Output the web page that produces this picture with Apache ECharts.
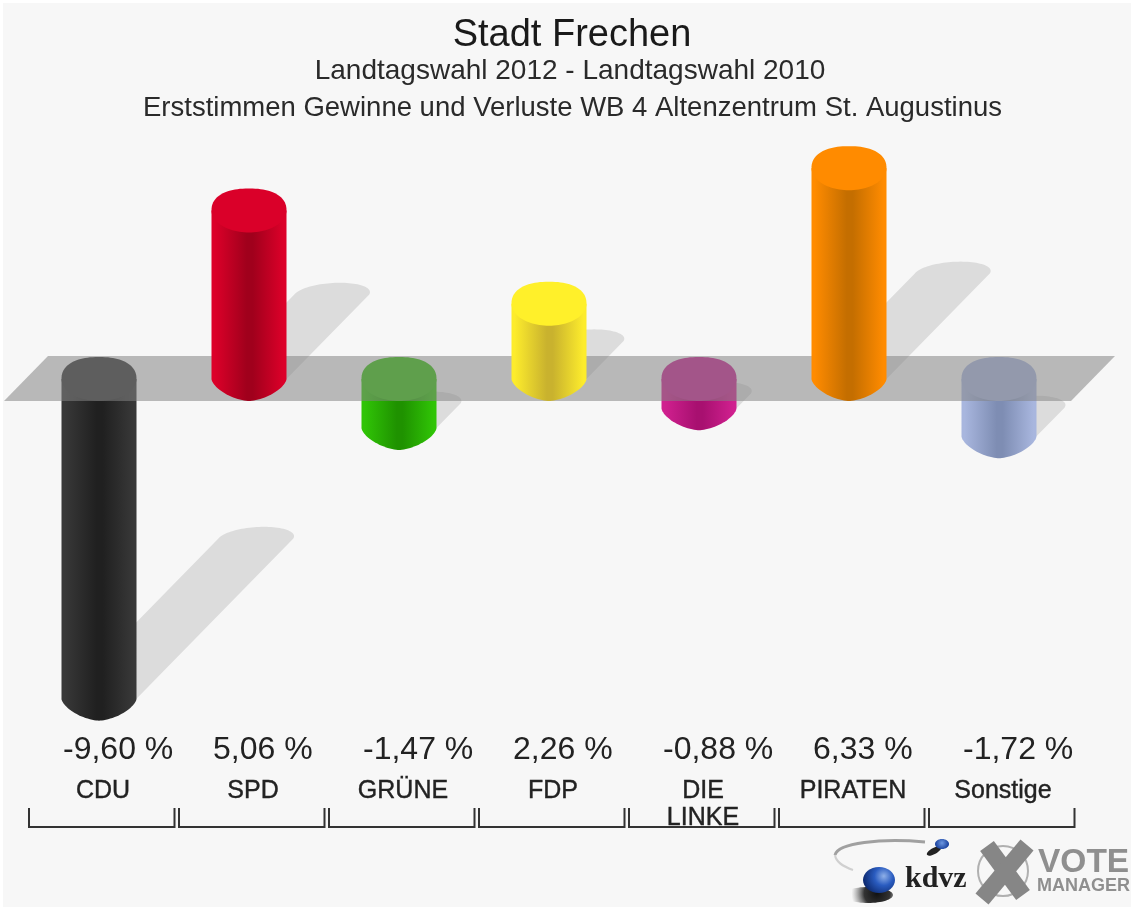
<!DOCTYPE html>
<html><head><meta charset="utf-8">
<style>html,body{margin:0;padding:0;background:#fff;overflow:hidden}#c{width:1131px;height:910px;filter:blur(0.55px)}</style>
<script src="https://cdn.jsdelivr.net/npm/echarts@6/dist/echarts.min.js"></script>
</head><body><div id="c"></div>
<script>
var titles = ['Stadt Frechen','Landtagswahl 2012 - Landtagswahl 2010','Erststimmen Gewinne und Verluste WB 4 Altenzentrum St. Augustinus'];
var categories = ['CDU','SPD','GRÜNE','FDP','DIE\nLINKE','PIRATEN','Sonstige'];
var values = [-9.60,5.06,-1.47,2.26,-0.88,6.33,-1.72];
var capColors = ['#343434','#da0029','#35c00c','#fff02a','#c92090','#ff8b00','#a6b4dc'];
var edgeColors = ['#383838','#dc0029','#30c406','#fdec2c','#d0208f','#ff8b00','#a8b6de'];
var coreColors = ['#202020','#a0001c','#1f9200','#c9b22e','#a81070','#c46e00','#7e8db3'];

var FONT = '"Liberation Sans", Arial, sans-serif';
var HW = 37.5, HH = 22;
function arc(cx, cy, rx, ry, from, to, n) {
  var pts = [], steps = 48, e = 2 / (n || 2);
  for (var k = 0; k <= steps; k++) {
    var a = (from + (to - from) * k / steps) * Math.PI / 180;
    var c = Math.cos(a), s = Math.sin(a);
    pts.push([cx + rx * (c<0?-1:1) * Math.pow(Math.abs(c), e), cy + ry * (s<0?-1:1) * Math.pow(Math.abs(s), e)]);
  }
  return pts;
}
function poly(points, fill, extra) {
  return Object.assign({type:'polygon', shape:{points:points}, style:{fill:fill}, silent:true}, extra||{});
}
function bodyFill(i) {
  return new echarts.graphic.LinearGradient(0,0,1,0,[
    {offset:0.04,color:edgeColors[i]},
    {offset:0.47,color:coreColors[i]},{offset:0.55,color:coreColors[i]},
    {offset:0.96,color:edgeColors[i]}]);
}
function cylinder(api, i) {
  var v = api.value(1);
  var base = api.coord([i,0]), tip = api.coord([i,v]);
  var cx = base[0];
  var topY = Math.min(base[1], tip[1]), botY = Math.max(base[1], tip[1]);
  var pts = [[cx-HW,topY],[cx+HW,topY]].concat(arc(cx,botY,HW,HH,0,180,1.6));
  return {type:'group',children:[
    poly(pts, bodyFill(i)),
    poly(arc(cx,topY,HW,HH,180,360,2.3).concat(arc(cx,topY,HW,HH,0,180,2)), capColors[i])
  ]};
}
var shadowItem = function(params, api) {
  var i = params.dataIndex, v = api.value(1);
  var base = api.coord([i,0]), tip = api.coord([i,v]);
  var cx = base[0], h = Math.abs(base[1]-tip[1]);
  var y0 = Math.max(base[1], tip[1]);
  var dx = h*0.49, dy = h*0.5, endY = y0-dy;
  var top = arc(cx+dx,endY,HW,12,180,360,2).map(function(p){ return [p[0]+(endY-p[1])*0.7, p[1]]; });
  var pts = [[cx-HW,y0]].concat(top).concat([[cx+HW,y0]]);
  return poly(pts, 'rgba(0,0,0,0.105)');
};
var negItem = function(params, api) { return api.value(1) < 0 ? cylinder(api, params.dataIndex) : null; };
var posItem = function(params, api) { return api.value(1) >= 0 ? cylinder(api, params.dataIndex) : null; };
var bandItem = function(params, api) {
  var a = api.coord([0,0]), b = api.coord([categories.length-1,0]);
  return poly([[a[0]-95,a[1]+22],[b[0]+72,a[1]+22],[b[0]+116,a[1]-23],[a[0]-51,a[1]-23]], 'rgba(132,132,132,0.54)');
};
var annotationItem = function(params, api) {
  var i = params.dataIndex;
  var c = api.coord([i,0]), cx = c[0];
  var label = values[i].toFixed(2).replace('.',',') + ' %';
  return {type:'group',children:[
    {type:'text',style:{text:label,x:cx-36,y:750,fill:'#222',font:'32px '+FONT,textAlign:'left',textVerticalAlign:'middle'}},
    {type:'polyline',shape:{points:[[cx-70,808],[cx-70,827],[cx+75.5,827],[cx+75.5,808]]},style:{stroke:'#333',lineWidth:2,fill:null}}
  ]};
};
var seriesData = values.map(function(v,i){return [i,v];});
function layer(fn, z, data) {
  return {type:'custom',coordinateSystem:'cartesian2d',renderItem:fn,data:data||seriesData,z:z,clip:false,silent:true,animation:false,encode:{x:0,y:1}};
}
var gray = '#8f8f8f';
var option = {
  animation:false,
  backgroundColor:'#fff',
  title: [
    {text:titles[0],left:567,top:12,textAlign:'center',textStyle:{fontFamily:FONT,fontSize:38,fontWeight:'normal',color:'#1a1a1a'}},
    {text:titles[1],left:565,top:52,textAlign:'center',textStyle:{fontFamily:FONT,fontSize:28,fontWeight:'normal',color:'#2a2a2a'}},
    {text:titles[2],left:567.5,top:89,textAlign:'center',textStyle:{fontFamily:FONT,fontSize:27.5,fontWeight:'normal',color:'#2a2a2a'}}
  ],
  grid:{left:24,width:1050,top:46,height:666},
  xAxis:{type:'category',data:categories,axisLine:{show:false},axisTick:{show:false},splitLine:{show:false},
    axisLabel:{interval:0,margin:66,padding:[0,0,0,8],fontFamily:FONT,fontSize:25,lineHeight:27,color:'#222',textBorderColor:'#222',textBorderWidth:0.4,verticalAlign:'top',align:'center'}},
  yAxis:{type:'value',min:-10,max:10,show:false,splitLine:{show:false}},
  graphic:[
    {type:'rect',z:-10,silent:true,shape:{x:3,y:3,width:1128,height:904},style:{fill:'#f7f7f7'}},
    {type:'group',z:20,silent:true,children:[
      {type:'ellipse',shape:{cx:868,cy:895,rx:25,ry:8},style:{fill:new echarts.graphic.RadialGradient(0.68,0.4,1.6,[{offset:0,color:'#111'},{offset:0.5,color:'#333'},{offset:1,color:'rgba(120,120,120,0)'}])}},
      {type:'ellipse',shape:{cx:879,cy:880,rx:16,ry:13},style:{fill:new echarts.graphic.RadialGradient(0.65,0.35,0.8,[{offset:0,color:'#8fb0e8'},{offset:0.45,color:'#2a5cc0'},{offset:1,color:'#0d2a70'}])}},
      {type:'ellipse',shape:{cx:934,cy:851,rx:8,ry:3},rotation:0.5,originX:934,originY:851,style:{fill:'#222'}},
      {type:'ellipse',shape:{cx:942,cy:844,rx:7,ry:5},style:{fill:new echarts.graphic.RadialGradient(0.5,0.4,0.7,[{offset:0,color:'#6d97e0'},{offset:1,color:'#173f9c'}])}},
      {type:'bezierCurve',shape:{x1:925,y1:842,cpx1:880,cpy1:838,cpx2:838,cpy2:843,x2:835,y2:855},style:{stroke:'#a0a0a0',lineWidth:3,fill:null}},
      {type:'bezierCurve',shape:{x1:835,y1:855,cpx1:836,cpy1:862,cpx2:842,cpy2:866,x2:853,y2:870},style:{stroke:'#d0d0d0',lineWidth:2,fill:null}},
      {type:'text',style:{text:'kdvz',x:905,y:879,font:'bold 30px "Liberation Serif", serif',fill:'#222',textAlign:'left',textVerticalAlign:'middle'}},
      {type:'circle',shape:{cx:1003,cy:871,r:25},style:{stroke:'#b0b0b0',lineWidth:2,fill:null}},
      {type:'line',shape:{x1:987,y1:846,x2:1023,y2:895},style:{stroke:'#868686',lineWidth:17}},
      {type:'line',shape:{x1:1027,y1:845,x2:982,y2:899},style:{stroke:'#868686',lineWidth:17}},
      {type:'text',style:{text:'VOTE',x:1038,y:863,font:'bold 33.5px "Liberation Sans", Arial, sans-serif',fill:gray,textAlign:'left',textVerticalAlign:'middle'}},
      {type:'text',style:{text:'MANAGER',x:1037,y:886,font:'bold 18px "Liberation Sans", Arial, sans-serif',fill:gray,textAlign:'left',textVerticalAlign:'middle'}}
    ]}
  ],
  series:[
    layer(shadowItem,1),
    layer(negItem,2),
    layer(bandItem,3,[[0,0]]),
    layer(posItem,4),
    layer(annotationItem,5)
  ]
};
var chart = echarts.init(document.getElementById('c'),null,{renderer:'canvas'});
chart.setOption(option);
</script></body></html>
